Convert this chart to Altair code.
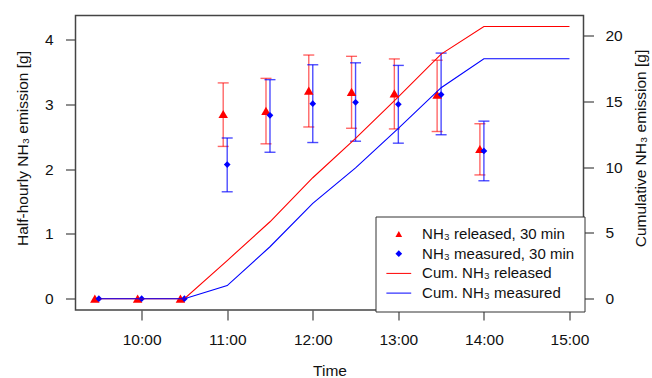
import altair as alt
import pandas as pd

# ---- data ----
times = ["09:30", "10:00", "10:30", "11:00", "11:30", "12:00", "12:30", "13:00", "13:30", "14:00"]
released = [0, 0, 0, 2.85, 2.90, 3.21, 3.19, 3.17, 3.15, 2.31]
released_lo = [None, None, None, 2.35, 2.39, 2.65, 2.63, 2.62, 2.58, 1.91]
released_hi = [None, None, None, 3.33, 3.40, 3.76, 3.74, 3.70, 3.68, 2.70]
measured = [0, 0, 0, 2.07, 2.83, 3.01, 3.03, 3.00, 3.15, 2.28]
measured_lo = [None, None, None, 1.65, 2.26, 2.41, 2.43, 2.40, 2.53, 1.82]
measured_hi = [None, None, None, 2.48, 3.38, 3.61, 3.64, 3.60, 3.79, 2.74]

cum_times = times + ["15:00"]
cum_released = [0, 0, 0, 2.9, 5.85, 9.2, 12.2, 15.35, 18.6, 20.7, 20.7]
cum_measured = [0, 0, 0, 1.0, 3.95, 7.25, 9.95, 12.95, 16.05, 18.25, 18.25]

labels = ["NH₃ released, 30 min", "NH₃ measured, 30 min",
          "Cum. NH₃ released", "Cum. NH₃ measured"]
x_ticks = [10, 11, 12, 13, 14, 15]
yl_ticks = [0, 1, 2, 3, 4]
yr_ticks = [0, 5, 10, 15, 20]


def hours(t):
    h, m = t.split(":")
    return int(h) + int(m) / 60


n = len(times)
pts = pd.DataFrame({
    "time": [hours(t) for t in times] * 2,
    "series": [labels[0]] * n + [labels[1]] * n,
    "value": released + measured,
    "lo": released_lo + measured_lo,
    "hi": released_hi + measured_hi,
})
m = len(cum_times)
cum = pd.DataFrame({
    "time": [hours(t) for t in cum_times] * 2,
    "series": [labels[2]] * m + [labels[3]] * m,
    "value": cum_released + cum_measured,
})

FONT = "Liberation Sans"
RED = "#ff0000"
BLUE = "#0000ff"
LINE_SYM = "M-3.7,-0.15L3.7,-0.15L3.7,0.15L-3.7,0.15Z"

x = alt.X("time:Q",
          scale=alt.Scale(domain=[9.227, 15.164], nice=False, zero=False),
          axis=alt.Axis(values=x_ticks, labelExpr="datum.value + ':00'", title="Time",
                        labelPadding=12, titleBaseline="alphabetic", titleY=65.5,
                        titleX=254))

yl_scale = alt.Scale(domain=[-0.174, 4.370], nice=False, zero=False)
yl_axis = alt.Axis(values=yl_ticks, title="Half-hourly NH₃ emission [g]", orient="left",
                   labelPadding=12.5, titleAngle=-90, titleBaseline="middle",
                   titleAlign="center", titleX=-53, titleY=132.5)
yr_scale = alt.Scale(domain=[-0.86, 21.54], nice=False, zero=False)
yr_axis = alt.Axis(values=yr_ticks, title="Cumulative NH₃ emission [g]", orient="right",
                   labelPadding=11.5, titleAngle=-90, titleBaseline="middle",
                   titleAlign="center", titleX=56.5, titleY=132.5)

legend = alt.Legend(title=None, orient="none", legendX=300, legendY=201,
                    fillColor="white", strokeColor="#333", padding=10,
                    cornerRadius=0, labelFont=FONT, labelFontSize=15,
                    labelColor="#111", labelLimit=400, symbolSize=45,
                    symbolOffset=5.8, labelOffset=15.8, rowPadding=3.7,
                    symbolStrokeWidth=0)
color = alt.Color("series:N",
                  scale=alt.Scale(domain=labels, range=[RED, BLUE, RED, BLUE]),
                  legend=legend)
shape = alt.Shape("series:N",
                  scale=alt.Scale(domain=labels,
                                  range=["triangle-up", "diamond", LINE_SYM, LINE_SYM]),
                  legend=legend)

base = alt.Chart(pts)


def error_layers(sel, col, op, off):
    src = base.transform_filter(alt.datum.series == sel)
    rule = src.mark_rule(color=col, opacity=op, strokeWidth=1.4, xOffset=off).encode(
        x=x, y=alt.Y("lo:Q", scale=yl_scale, axis=yl_axis), y2="hi:Q")
    lo = src.mark_tick(orient="horizontal", size=11, thickness=1.4, color=col,
                       opacity=op, xOffset=off).encode(
        x=x, y=alt.Y("lo:Q", scale=yl_scale, axis=yl_axis))
    hi = src.mark_tick(orient="horizontal", size=11, thickness=1.4, color=col,
                       opacity=op, xOffset=off).encode(
        x=x, y=alt.Y("hi:Q", scale=yl_scale, axis=yl_axis))
    return [rule, lo, hi]


red_pts = base.transform_filter(alt.datum.series == labels[0]).mark_point(
    filled=True, opacity=1, size=90, xOffset=-4, strokeWidth=0).encode(
    x=x, y=alt.Y("value:Q", scale=yl_scale, axis=yl_axis), color=color, shape=shape)
blue_pts = base.transform_filter(alt.datum.series == labels[1]).mark_point(
    filled=True, opacity=1, size=45, strokeWidth=0).encode(
    x=x, y=alt.Y("value:Q", scale=yl_scale, axis=yl_axis), color=color, shape=shape)

left = alt.layer(*error_layers(labels[0], RED, 0.6, -4),
                 *error_layers(labels[1], BLUE, 0.7, 0),
                 red_pts, blue_pts)

lines = alt.Chart(cum).mark_line(strokeWidth=1.1).encode(
    x=x,
    y=alt.Y("value:Q", scale=yr_scale, axis=yr_axis),
    stroke=alt.Stroke("series:N",
                      scale=alt.Scale(domain=labels[2:], range=[RED, BLUE]),
                      legend=None),
)

chart = alt.layer(left, lines).resolve_scale(y="independent").properties(
    width=508, height=294.5,
    padding={"left": 75.5, "top": 15.5, "right": 68.5, "bottom": 68},
    autosize=alt.AutoSizeParams(type="none"),
    background="white",
).configure_view(
    stroke="#444", strokeWidth=1.5
).configure_axis(
    domain=False, grid=False, ticks=True, tickSize=10, tickColor="#444",
    tickWidth=1.2, labelFont=FONT, labelFontSize=15.5, labelColor="#111",
    titleFont=FONT, titleFontSize=15.5, titleFontWeight="normal", titleColor="#111",
)

chart.save("out.html", embed_options={"renderer": "svg", "actions": False})
